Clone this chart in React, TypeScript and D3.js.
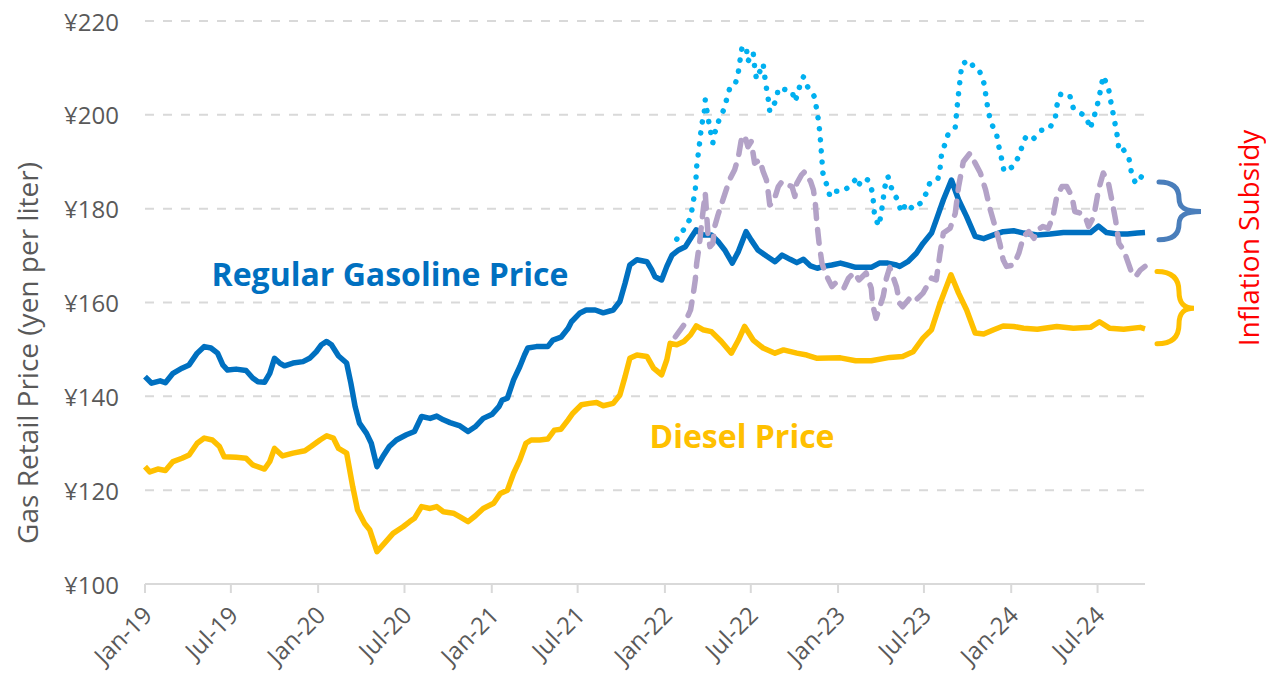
import React from 'react';
import * as d3 from 'd3';

// weekly retail prices, yen per liter
const gasoline: [string, number][] = [
  ['2019-01-01', 144.2], ['2019-01-15', 142.8], ['2019-02-02', 143.3], ['2019-02-13', 142.9], ['2019-03-01', 144.9],
  ['2019-03-20', 146.0], ['2019-04-04', 146.7], ['2019-04-21', 149.2], ['2019-05-06', 150.6], ['2019-05-20', 150.3],
  ['2019-06-03', 149.2], ['2019-06-14', 146.7], ['2019-06-24', 145.6], ['2019-07-12', 145.8], ['2019-08-02', 145.5],
  ['2019-08-16', 143.9], ['2019-08-27', 143.1], ['2019-09-10', 143.0], ['2019-09-21', 144.9], ['2019-10-01', 148.1],
  ['2019-10-12', 147.1], ['2019-10-22', 146.5], ['2019-11-09', 147.1], ['2019-11-30', 147.4], ['2019-12-14', 148.1],
  ['2019-12-28', 149.5], ['2020-01-08', 151.0], ['2020-01-19', 151.7], ['2020-01-29', 151.0], ['2020-02-13', 148.6],
  ['2020-03-01', 147.1], ['2020-03-10', 142.8], ['2020-03-19', 137.8], ['2020-03-28', 134.3], ['2020-04-12', 132.1],
  ['2020-04-22', 130.0], ['2020-05-04', 125.0], ['2020-05-16', 127.1], ['2020-05-30', 129.3], ['2020-06-14', 130.7],
  ['2020-07-05', 131.8], ['2020-07-22', 132.5], ['2020-08-06', 135.7], ['2020-08-24', 135.3], ['2020-09-07', 135.8],
  ['2020-09-21', 135.0], ['2020-10-05', 134.4], ['2020-10-26', 133.7], ['2020-11-12', 132.5], ['2020-11-27', 133.5],
  ['2020-12-14', 135.3], ['2021-01-02', 136.2], ['2021-01-16', 137.8], ['2021-01-23', 139.2], ['2021-02-03', 139.6],
  ['2021-02-16', 143.5], ['2021-03-01', 146.3], ['2021-03-11', 148.8], ['2021-03-18', 150.3], ['2021-04-05', 150.6],
  ['2021-04-29', 150.6], ['2021-05-10', 152.0], ['2021-05-27', 152.6], ['2021-06-11', 154.5], ['2021-06-18', 155.9],
  ['2021-07-05', 157.7], ['2021-07-19', 158.4], ['2021-08-07', 158.4], ['2021-08-24', 157.8], ['2021-09-14', 158.4],
  ['2021-09-28', 160.2], ['2021-10-09', 164.1], ['2021-10-19', 168.0], ['2021-11-03', 169.1], ['2021-11-24', 168.7],
  ['2021-12-04', 167.0], ['2021-12-11', 165.5], ['2021-12-25', 164.8], ['2022-01-05', 167.7], ['2022-01-16', 170.1],
  ['2022-01-30', 171.2], ['2022-02-13', 171.9], ['2022-02-27', 174.1], ['2022-03-08', 175.5], ['2022-03-22', 174.4],
  ['2022-04-09', 174.4], ['2022-04-23', 173.0], ['2022-05-07', 171.2], ['2022-05-23', 168.4], ['2022-06-05', 170.9],
  ['2022-06-21', 175.1], ['2022-07-02', 173.3], ['2022-07-16', 171.2], ['2022-08-03', 169.9], ['2022-08-21', 168.7],
  ['2022-09-05', 170.1], ['2022-09-22', 169.2], ['2022-10-06', 168.5], ['2022-10-20', 169.2], ['2022-11-04', 167.8],
  ['2022-11-18', 167.3], ['2022-12-01', 167.7], ['2022-12-19', 168.0], ['2023-01-06', 168.4], ['2023-01-20', 168.0],
  ['2023-02-07', 167.5], ['2023-02-24', 167.5], ['2023-03-12', 167.5], ['2023-03-29', 168.4], ['2023-04-16', 168.4],
  ['2023-05-04', 168.0], ['2023-05-11', 167.7], ['2023-05-28', 168.7], ['2023-06-15', 170.5], ['2023-06-29', 172.6],
  ['2023-07-17', 174.8], ['2023-07-27', 177.6], ['2023-08-11', 181.9], ['2023-08-28', 186.1], ['2023-09-12', 181.9],
  ['2023-09-29', 178.3], ['2023-10-17', 174.1], ['2023-11-04', 173.6], ['2023-11-25', 174.4], ['2023-12-15', 175.1],
  ['2024-01-06', 175.3], ['2024-01-27', 174.8], ['2024-02-25', 174.4], ['2024-03-23', 174.6], ['2024-04-20', 174.9],
  ['2024-05-18', 174.9], ['2024-06-16', 174.9], ['2024-07-03', 176.3], ['2024-07-20', 174.9], ['2024-08-11', 174.6],
  ['2024-09-02', 174.6], ['2024-09-23', 174.8], ['2024-10-09', 174.9],
];

const diesel: [string, number][] = [
  ['2019-01-01', 125.0], ['2019-01-11', 123.9], ['2019-01-28', 124.5], ['2019-02-13', 124.2], ['2019-03-01', 126.1],
  ['2019-03-20', 126.8], ['2019-04-04', 127.5], ['2019-04-21', 130.0], ['2019-05-06', 131.1], ['2019-05-23', 130.7],
  ['2019-06-07', 129.3], ['2019-06-17', 127.1], ['2019-07-12', 127.0], ['2019-08-02', 126.8], ['2019-08-16', 125.4],
  ['2019-09-10', 124.5], ['2019-09-21', 126.1], ['2019-10-01', 128.9], ['2019-10-18', 127.3], ['2019-11-09', 127.9],
  ['2019-12-04', 128.4], ['2019-12-17', 129.3], ['2020-01-05', 130.7], ['2020-01-19', 131.6], ['2020-02-02', 131.1],
  ['2020-02-13', 128.9], ['2020-03-01', 127.9], ['2020-03-14', 120.7], ['2020-03-24', 115.8], ['2020-04-08', 112.9],
  ['2020-04-19', 111.5], ['2020-05-04', 106.9], ['2020-05-20', 108.7], ['2020-06-07', 110.8], ['2020-06-28', 112.2],
  ['2020-07-12', 113.3], ['2020-07-22', 114.0], ['2020-08-06', 116.5], ['2020-08-24', 116.1], ['2020-09-07', 116.5],
  ['2020-09-21', 115.4], ['2020-10-12', 115.1], ['2020-10-26', 114.3], ['2020-11-12', 113.3], ['2020-11-27', 114.5],
  ['2020-12-14', 116.1], ['2021-01-05', 117.2], ['2021-01-19', 119.3], ['2021-02-03', 120.0], ['2021-02-16', 123.6],
  ['2021-03-01', 126.4], ['2021-03-14', 130.0], ['2021-03-25', 130.7], ['2021-04-12', 130.7], ['2021-04-29', 130.9],
  ['2021-05-13', 132.8], ['2021-05-27', 133.0], ['2021-06-11', 135.0], ['2021-06-21', 136.4], ['2021-07-09', 138.2],
  ['2021-07-26', 138.5], ['2021-08-10', 138.7], ['2021-08-24', 138.0], ['2021-09-14', 138.5], ['2021-09-28', 140.3],
  ['2021-10-09', 144.2], ['2021-10-19', 148.1], ['2021-11-03', 148.8], ['2021-11-24', 148.5], ['2021-12-08', 146.0],
  ['2021-12-25', 144.6], ['2022-01-05', 147.8], ['2022-01-12', 151.3], ['2022-01-26', 151.0], ['2022-02-10', 151.7],
  ['2022-02-24', 153.1], ['2022-03-08', 155.0], ['2022-03-22', 154.2], ['2022-04-09', 153.8], ['2022-04-30', 151.7],
  ['2022-05-21', 149.2], ['2022-06-05', 152.0], ['2022-06-18', 154.9], ['2022-07-06', 152.0], ['2022-07-27', 150.3],
  ['2022-08-21', 149.2], ['2022-09-08', 149.9], ['2022-10-06', 149.2], ['2022-10-27', 148.8], ['2022-11-18', 148.1],
  ['2023-01-06', 148.2], ['2023-02-07', 147.6], ['2023-03-12', 147.6], ['2023-04-20', 148.3], ['2023-05-17', 148.5],
  ['2023-06-08', 149.5], ['2023-06-29', 152.4], ['2023-07-17', 154.2], ['2023-08-04', 159.8], ['2023-08-27', 165.9],
  ['2023-09-12', 162.0], ['2023-09-29', 158.4], ['2023-10-17', 153.5], ['2023-11-04', 153.3], ['2023-11-25', 154.2],
  ['2023-12-15', 155.0], ['2024-01-06', 154.9], ['2024-01-27', 154.5], ['2024-02-25', 154.3], ['2024-04-06', 154.9],
  ['2024-05-11', 154.5], ['2024-06-16', 154.7], ['2024-07-05', 155.9], ['2024-07-27', 154.5], ['2024-08-25', 154.3],
  ['2024-09-29', 154.7], ['2024-10-09', 154.4],
];

// estimated prices without the inflation subsidy
const gasolineNoSubsidy: [string, number][] = [
  ['2022-01-26', 173.5], ['2022-02-10', 175.6], ['2022-02-24', 178.0], ['2022-03-06', 184.0], ['2022-03-09', 189.0],
  ['2022-03-16', 194.7], ['2022-03-19', 197.5], ['2022-03-25', 200.7], ['2022-03-27', 203.2], ['2022-04-02', 199.3],
  ['2022-04-09', 195.5], ['2022-04-12', 194.0], ['2022-04-16', 196.1], ['2022-04-25', 198.9], ['2022-05-05', 201.1],
  ['2022-05-12', 203.6], ['2022-05-19', 206.2], ['2022-05-30', 206.8], ['2022-06-05', 209.3], ['2022-06-09', 212.1],
  ['2022-06-13', 214.7], ['2022-06-22', 214.0], ['2022-06-25', 211.4], ['2022-07-06', 213.3], ['2022-07-09', 210.3],
  ['2022-07-13', 207.6], ['2022-07-27', 210.9], ['2022-07-30', 208.5], ['2022-08-03', 205.7], ['2022-08-07', 203.2],
  ['2022-08-10', 200.7], ['2022-08-24', 203.2], ['2022-08-28', 205.7], ['2022-09-15', 205.3], ['2022-09-26', 205.0],
  ['2022-10-02', 202.8], ['2022-10-06', 203.9], ['2022-10-13', 206.4], ['2022-10-20', 208.1], ['2022-10-30', 205.7],
  ['2022-11-12', 203.9], ['2022-11-17', 201.1], ['2022-11-21', 198.6], ['2022-11-24', 195.7], ['2022-11-28', 190.4],
  ['2022-11-30', 187.6], ['2022-12-08', 185.1], ['2022-12-15', 182.6], ['2022-12-26', 183.7], ['2023-01-11', 183.7],
  ['2023-01-23', 184.6], ['2023-02-05', 186.0], ['2023-02-10', 184.6], ['2023-02-24', 186.5], ['2023-03-05', 186.1],
  ['2023-03-14', 183.7], ['2023-03-17', 181.0], ['2023-03-19', 178.3], ['2023-03-28', 176.3], ['2023-04-02', 179.0],
  ['2023-04-06', 181.9], ['2023-04-09', 184.4], ['2023-04-16', 186.9], ['2023-04-27', 183.3], ['2023-05-07', 181.9],
  ['2023-05-14', 179.2], ['2023-05-25', 181.2], ['2023-06-08', 179.9], ['2023-06-24', 181.2], ['2023-07-06', 183.3],
  ['2023-07-13', 185.4], ['2023-07-30', 186.1], ['2023-08-04', 188.6], ['2023-08-07', 191.5], ['2023-08-21', 195.9],
  ['2023-09-05', 197.4], ['2023-09-10', 202.8], ['2023-09-19', 210.9], ['2023-10-06', 211.6], ['2023-10-17', 209.5],
  ['2023-10-27', 209.1], ['2023-11-05', 206.6], ['2023-11-09', 203.8], ['2023-11-13', 201.1], ['2023-11-19', 198.4],
  ['2023-12-01', 195.9], ['2023-12-06', 193.2], ['2023-12-12', 190.5], ['2023-12-17', 187.9], ['2024-01-07', 189.1],
  ['2024-01-19', 191.7], ['2024-01-27', 194.3], ['2024-02-02', 195.5], ['2024-02-16', 194.8], ['2024-03-05', 196.7],
  ['2024-03-21', 197.0], ['2024-04-03', 199.3], ['2024-04-06', 201.9], ['2024-04-15', 204.6], ['2024-05-04', 203.9],
  ['2024-05-11', 201.4], ['2024-05-24', 200.5], ['2024-06-07', 199.6], ['2024-06-16', 197.0], ['2024-06-19', 198.3],
  ['2024-06-26', 200.4], ['2024-07-03', 203.1], ['2024-07-08', 205.7], ['2024-07-13', 208.3], ['2024-07-24', 205.7],
  ['2024-07-29', 202.8], ['2024-08-08', 197.5], ['2024-08-13', 194.7], ['2024-08-15', 192.2], ['2024-08-25', 192.5],
  ['2024-09-05', 190.8], ['2024-09-10', 187.9], ['2024-09-19', 185.4], ['2024-09-26', 185.8], ['2024-10-06', 187.7],
];

const dieselNoSubsidy: [string, number][] = [
  ['2022-01-23', 152.7], ['2022-02-10', 155.2], ['2022-02-24', 158.4], ['2022-03-01', 161.3], ['2022-03-06', 164.8],
  ['2022-03-09', 168.4], ['2022-03-15', 172.6], ['2022-03-18', 175.5], ['2022-03-21', 178.3], ['2022-03-27', 183.3],
  ['2022-04-02', 174.1], ['2022-04-06', 171.9], ['2022-04-12', 172.6], ['2022-04-16', 176.2], ['2022-04-23', 178.7],
  ['2022-05-17', 186.1], ['2022-05-28', 188.3], ['2022-06-05', 191.1], ['2022-06-11', 194.7], ['2022-06-18', 195.7],
  ['2022-06-25', 193.2], ['2022-07-02', 194.3], ['2022-07-09', 189.7], ['2022-07-20', 190.4], ['2022-07-27', 187.9],
  ['2022-08-03', 186.1], ['2022-08-07', 183.3], ['2022-08-10', 180.8], ['2022-08-17', 181.2], ['2022-08-28', 184.7],
  ['2022-09-05', 185.8], ['2022-09-15', 185.1], ['2022-09-26', 184.7], ['2022-10-02', 182.6], ['2022-10-06', 185.4],
  ['2022-10-16', 187.2], ['2022-10-23', 187.9], ['2022-11-04', 185.8], ['2022-11-10', 184.0], ['2022-11-14', 181.2],
  ['2022-11-17', 177.3], ['2022-11-22', 172.6], ['2022-11-28', 168.4], ['2022-12-05', 166.3], ['2022-12-12', 164.8],
  ['2022-12-19', 163.4], ['2022-12-26', 164.1], ['2023-01-13', 163.0], ['2023-01-23', 165.2], ['2023-02-04', 166.4],
  ['2023-02-14', 164.8], ['2023-03-01', 166.3], ['2023-03-12', 163.0], ['2023-03-15', 159.5], ['2023-03-22', 156.6],
  ['2023-04-06', 161.3], ['2023-04-13', 165.2], ['2023-04-20', 167.5], ['2023-05-04', 163.4], ['2023-05-11', 159.8],
  ['2023-05-17', 159.1], ['2023-06-01', 160.9], ['2023-06-11', 160.2], ['2023-06-29', 162.0], ['2023-07-17', 165.2],
  ['2023-07-27', 164.8], ['2023-08-04', 170.5], ['2023-08-11', 174.8], ['2023-08-25', 175.8], ['2023-09-05', 179.0],
  ['2023-09-12', 184.7], ['2023-09-22', 190.0], ['2023-10-06', 191.8], ['2023-10-17', 189.7], ['2023-10-28', 187.6],
  ['2023-11-08', 184.0], ['2023-11-18', 179.7], ['2023-11-28', 176.2], ['2023-12-08', 172.6], ['2023-12-15', 169.1],
  ['2023-12-22', 167.7], ['2024-01-06', 168.0], ['2024-01-17', 170.5], ['2024-01-27', 174.1], ['2024-02-07', 175.1],
  ['2024-02-18', 173.7], ['2024-02-25', 175.5], ['2024-03-08', 176.2], ['2024-03-19', 175.8], ['2024-03-29', 178.3],
  ['2024-04-06', 182.6], ['2024-04-17', 184.7], ['2024-04-27', 184.7], ['2024-05-08', 182.6], ['2024-05-14', 179.4],
  ['2024-05-28', 179.0], ['2024-06-05', 178.3], ['2024-06-12', 176.2], ['2024-06-23', 178.3], ['2024-07-03', 184.0],
  ['2024-07-13', 187.6], ['2024-07-24', 185.4], ['2024-07-31', 181.9], ['2024-08-08', 177.6], ['2024-08-15', 172.6],
  ['2024-08-25', 171.2], ['2024-09-09', 166.9], ['2024-09-19', 165.5], ['2024-09-29', 166.9], ['2024-10-09', 167.7],
];

const yTicks = [100, 120, 140, 160, 180, 200, 220];

// subsidy brackets: [top, tip, bottom] in yen
const gasolineBrace = [185.7, 179.4, 173.4];
const dieselBrace = [166.6, 158.8, 151.2];

const parse = d3.timeParse('%Y-%m-%d');
const fmt = d3.timeFormat('%b-%y');
const FONT = '"Open Sans", Calibri, sans-serif';

const App = () => {
  const width = 1266;
  const height = 675;

  const x = d3
    .scaleTime()
    .domain([parse('2019-01-01') as Date, parse('2024-10-09') as Date])
    .range([145, 1145]);
  const y = d3.scaleLinear().domain([100, 220]).range([584, 21]);

  const line = d3
    .line<[string, number]>()
    .x((d) => x(parse(d[0]) as Date))
    .y((d) => y(d[1]));

  const xTicks = d3.timeMonth.every(6)!.range(parse('2019-01-01') as Date, parse('2024-10-01') as Date);

  // curly bracket pointing right
  const brace = (x0: number, reach: number, tipX: number, [top, tip, bottom]: number[]) => {
    const t = y(top);
    const m = y(tip);
    const b = y(bottom);
    const xr = x0 + reach;
    return (
      `M${x0},${t} C${x0 + 14},${t} ${xr},${t + 6} ${xr},${t + (m - t) * 0.55} ` +
      `C${xr},${m - 4} ${xr + 6},${m} ${tipX},${m} ` +
      `C${xr + 6},${m} ${xr},${m + 4} ${xr},${m + (b - m) * 0.45} ` +
      `C${xr},${b - 6} ${x0 + 14},${b} ${x0},${b}`
    );
  };

  return (
    <svg width={width} height={height} style={{ display: 'block', background: '#fff' }}>
      <style>{`body{margin:0}`}</style>

      {yTicks.map((v) =>
        v === 100 ? null : (
          <line key={v} x1={145} x2={1145} y1={y(v)} y2={y(v)} stroke="#d9d9d9" strokeWidth={2} strokeDasharray="9,9" />
        )
      )}
      <line x1={145} x2={1145} y1={y(100)} y2={y(100)} stroke="#d9d9d9" strokeWidth={2} />
      {xTicks.map((t) => (
        <line key={+t} x1={x(t)} x2={x(t)} y1={y(100)} y2={y(100) + 9} stroke="#d9d9d9" strokeWidth={2} />
      ))}

      {yTicks.map((v) => (
        <text key={v} x={119} y={y(v)} textAnchor="end" dominantBaseline="central" fontFamily={FONT} fontSize={24} fill="#595959">
          ¥{v}
        </text>
      ))}
      {xTicks.map((t) => (
        <text
          key={+t}
          transform={`translate(${x(t) + 2},${610}) rotate(-45)`}
          textAnchor="end"
          dominantBaseline="central"
          fontFamily={FONT}
          fontSize={24}
          fill="#595959"
        >
          {fmt(t)}
        </text>
      ))}
      <text
        transform="translate(27,353) rotate(-90)"
        textAnchor="middle"
        dominantBaseline="central"
        fontFamily={FONT}
        fontSize={28}
        fill="#595959"
      >
        Gas Retail Price (yen per liter)
      </text>

      <path d={line(diesel) || ''} fill="none" stroke="#FFC000" strokeWidth={5.5} strokeLinejoin="round" />
      <path d={line(gasoline) || ''} fill="none" stroke="#0070C0" strokeWidth={5.5} strokeLinejoin="round" />
      <path
        d={line(dieselNoSubsidy) || ''}
        fill="none"
        stroke="#B3A2C7"
        strokeWidth={5.5}
        strokeDasharray="14,11"
        strokeLinecap="round"
        strokeLinejoin="round"
      />
      <path
        d={line(gasolineNoSubsidy) || ''}
        fill="none"
        stroke="#00B0F0"
        strokeWidth={5.5}
        strokeDasharray="0.1,11"
        strokeLinecap="round"
        strokeLinejoin="round"
      />

      <text x={390} y={273} textAnchor="middle" dominantBaseline="central" fontFamily={FONT} fontWeight="bold" fontSize={32} fill="#0070C0">
        Regular Gasoline Price
      </text>
      <text x={742} y={435} textAnchor="middle" dominantBaseline="central" fontFamily={FONT} fontWeight="bold" fontSize={32} fill="#FFC000">
        Diesel Price
      </text>

      <path d={brace(1159, 20, 1201, gasolineBrace)} fill="none" stroke="#4A7EBB" strokeWidth={5} strokeLinecap="round" />
      <path d={brace(1157, 22, 1194, dieselBrace)} fill="none" stroke="#FFC000" strokeWidth={5} strokeLinecap="round" />
      <text
        transform="translate(1248,238) rotate(-90)"
        textAnchor="middle"
        dominantBaseline="central"
        fontFamily={FONT}
        fontSize={28}
        fill="#FF0000"
      >
        Inflation Subsidy
      </text>
    </svg>
  );
};

export default App;
